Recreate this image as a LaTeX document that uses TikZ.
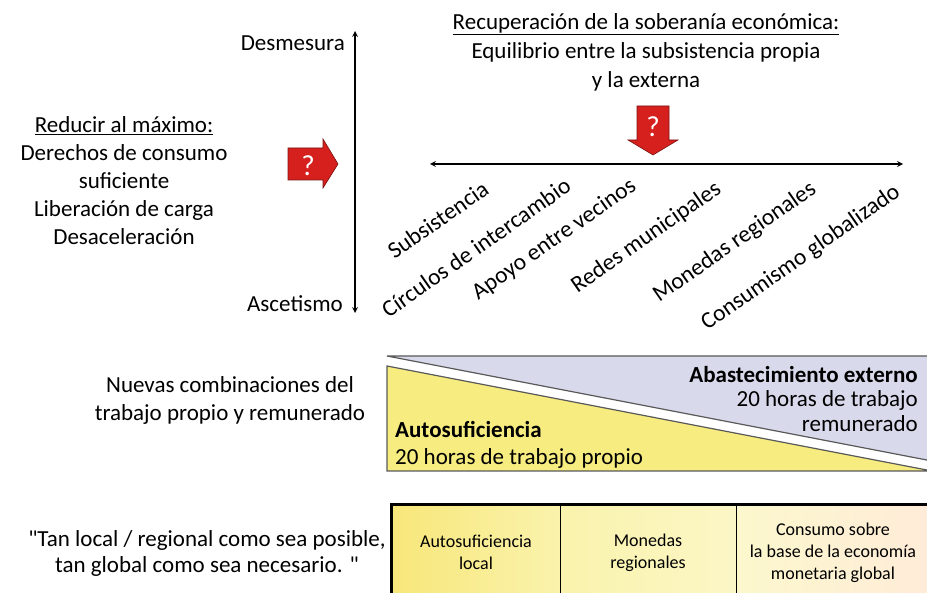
\documentclass[tikz,border=0pt]{standalone}
\usepackage{fontspec}
\setmainfont{Carlito}
\usepackage{xcolor}
\usetikzlibrary{shapes,arrows,positioning,calc}

\definecolor{qred}{RGB}{214,32,30}
\definecolor{lav}{RGB}{217,217,236}
\definecolor{yel}{RGB}{247,236,128}

\begin{document}
\begin{tikzpicture}[x=1pt, y=-1pt,
    txt/.style={font=\fontsize{23}{28}\selectfont, align=center, inner sep=0pt},
    side/.style={font=\fontsize{23}{24.5}\selectfont, inner sep=0pt},
    ramp/.style={font=\fontsize{23.5}{24}\selectfont, rotate=35, anchor=east, inner sep=0pt},
    axis/.style={<->, >=stealth, line width=1.6pt},
    qarr/.style={fill=qred, draw=qred!55!black, line width=0.6pt},
    qmark/.style={font=\fontsize{29}{29}\selectfont, white, inner sep=0pt},
    tri/.style={draw=black!65, line width=1.2pt},
    cell/.style={draw, line width=0.8pt, minimum height=95, inner sep=0pt, font=\fontsize{18}{22}\selectfont, align=center},
]
\useasboundingbox (0,0) rectangle (927,593);

% Vertical scale
\coordinate (vtop) at (355,31);
\coordinate (vbot) at (355,313);
\draw[axis] (vbot) -- (vtop);
\node[side, anchor=east] (desm) at (345,43) {Desmesura};
\node[side, anchor=east] (asce) at (343,304) {Ascetismo};

% Left text and red arrow
\node[txt] (reduce) at (124,181) {\underline{Reducir al máximo:}\\Derechos de consumo\\suficiente\\Liberación de carga\\Desaceleración};
\draw[qarr] (288,148) -- (323,148) -- (323,139) -- (338,164) -- (323,188) -- (323,180) -- (288,180) -- cycle;
\node[qmark] (qleft) at (308,166) {?};

% Top text and red arrow
\node[txt, font=\fontsize{23}{29}\selectfont] (recup) at (646,52) {\underline{Recuperación de la soberanía económica:}\\Equilibrio entre la subsistencia propia\\y la externa};
\draw[qarr] (637,106) -- (669,106) -- (669,140) -- (678,140) -- (653,155) -- (628,140) -- (637,140) -- cycle;
\node[qmark] (qdown) at (653,127) {?};

% Horizontal scale
\coordinate (hleft) at (430,164);
\coordinate (hright) at (903,164);
\draw[axis] (hleft) -- (hright);

% Scale labels
\node[ramp] (subs) at (486,186) {Subsistencia};
\node[ramp] (circ) at (568,183) {Círculos de intercambio};
\node[ramp] (apoyo) at (634,184) {Apoyo entre vecinos};
\node[ramp] (redes) at (719,187) {Redes municipales};
\node[ramp] (mone) at (814,187) {Monedas regionales};
\node[ramp] (cons) at (898,190) {Consumismo globalizado};

% Own work vs paid work
\node[txt] (nuevas) at (230,400) {Nuevas combinaciones del\\trabajo propio y remunerado};
\draw[tri, fill=lav] (387,356) -- (932,356) -- (932,461) -- cycle;
\draw[tri, fill=yel] (387,366) -- (932,471) -- (387,471) -- cycle;
\node[side, align=right, anchor=east] (ext) at (918,399) {\textbf{Abastecimiento externo}\\20 horas de trabajo\\remunerado};
\node[side, align=left, anchor=west, font=\fontsize{23}{27}\selectfont] (auto) at (395,445) {\textbf{Autosuficiencia}\\20 horas de trabajo propio};

% Local / global table
\node[txt, font=\fontsize{23}{26}\selectfont] (quote) at (207,553) {\textquotedbl Tan local / regional como sea posible,\\tan global como sea necesario. \textquotedbl};
\node[cell, minimum width=168, left color=yel!95!orange, right color=yel!65!white] (c1) at (476,552.5) {Autosuficiencia\\local};
\node[cell, minimum width=176, left color=yel!65!white, right color=yel!45!white] (c2) at (648,552.5) {Monedas\\regionales};
\node[cell, minimum width=194, left color=yel!40!white, right color=orange!15!white] (c3) at (833,552.5) {Consumo sobre\\la base de la economía\\monetaria global};
\draw[line width=2.8pt] (c1.north west) rectangle (c3.south east);
\end{tikzpicture}
\end{document}
